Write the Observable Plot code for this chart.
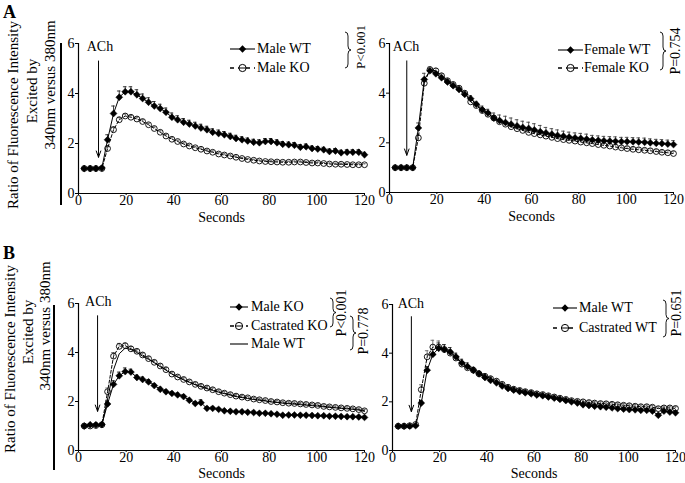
<!DOCTYPE html>
<html><head><meta charset="utf-8">
<script src="https://cdn.jsdelivr.net/npm/d3@7"></script>
<script src="https://cdn.jsdelivr.net/npm/@observablehq/plot@0.6"></script>
<style>
body{margin:0;background:#fff;}
#fig{position:relative;width:685px;height:483px;font-family:"Liberation Serif","Times New Roman",serif;color:#000;overflow:hidden;background:#fff;}
#fig svg text{font-family:"Liberation Serif","Times New Roman",serif;}
.abs{position:absolute;white-space:nowrap;line-height:1;}
.rot{transform:translate(-50%,-50%) rotate(-90deg);}
.leg{transform:translateY(-50%);font-size:14px;}
</style></head><body><div id="fig"></div><script>
// ---- data ----
const T = [2.4,4.9,7.3,9.8,12.2,14.7,17.1,19.6,22.0,24.5,26.9,29.4,31.8,34.3,36.7,39.2,41.6,44.1,46.5,49.0,51.4,53.9,56.3,58.8,61.2,63.7,66.1,68.6,71.0,73.5,75.9,78.4,80.8,83.3,85.7,88.2,90.6,93.1,95.5,98.0,100.4,102.9,105.3,107.8,110.2,112.7,115.1,117.6,120.0];
const xTicks = [0,20,40,60,80,100,120];
const yTicks = [0,2,4,6];

// Panel A left
const maleWT_A = [1.0,1.0,1.0,1.02,2.15,3.2,3.85,4.07,4.07,3.95,3.8,3.65,3.5,3.4,3.25,3.05,2.95,2.85,2.78,2.7,2.62,2.55,2.45,2.4,2.35,2.28,2.2,2.15,2.1,2.05,2.03,2.08,2.08,2.03,1.97,1.95,1.93,1.85,1.87,1.8,1.78,1.75,1.68,1.7,1.63,1.65,1.65,1.65,1.55];
const maleWT_A_err = [0.03,0.03,0.03,0.03,0.2,0.3,0.25,0.2,0.2,0.2,0.18,0.18,0.18,0.17,0.17,0.17,0.16,0.15,0.15,0.15,0.15,0.14,0.14,0.14,0.13,0.13,0.13,0.12,0.12,0.12,0.12,0.12,0.12,0.12,0.11,0.11,0.11,0.11,0.11,0.1,0.1,0.1,0.1,0.1,0.1,0.1,0.1,0.1,0.1];
const maleKO_A = [1.0,1.0,1.0,1.0,1.8,2.55,2.95,3.1,3.05,2.98,2.88,2.75,2.6,2.45,2.3,2.17,2.08,1.98,1.9,1.83,1.77,1.7,1.65,1.58,1.54,1.5,1.45,1.4,1.36,1.33,1.3,1.28,1.27,1.26,1.25,1.25,1.26,1.26,1.24,1.22,1.22,1.2,1.18,1.17,1.17,1.16,1.15,1.15,1.15];
const maleKO_A_err = [0.02,0.02,0.02,0.02,0.1,0.12,0.1,0.08,0.07,0.07,0.07,0.06,0.06,0.06,0.06,0.06,0.05,0.05,0.05,0.05,0.05,0.05,0.05,0.05,0.05,0.05,0.05,0.04,0.04,0.04,0.04,0.04,0.04,0.04,0.04,0.04,0.04,0.04,0.04,0.04,0.04,0.04,0.04,0.04,0.04,0.04,0.04,0.04,0.04];

// Panel A right
const femaleWT = [1.0,1.0,1.0,1.0,2.6,4.55,4.9,4.78,4.62,4.45,4.3,4.15,3.95,3.78,3.55,3.33,3.2,3.0,2.9,2.82,2.75,2.68,2.62,2.58,2.52,2.45,2.4,2.35,2.3,2.27,2.23,2.2,2.18,2.15,2.12,2.1,2.08,2.07,2.06,2.05,2.05,2.04,2.03,2.02,2.0,1.98,1.97,1.95,1.93];
const femaleWT_err = [0.03,0.03,0.03,0.03,0.2,0.25,0.1,0.1,0.1,0.1,0.1,0.1,0.12,0.12,0.12,0.15,0.15,0.2,0.22,0.25,0.25,0.25,0.25,0.25,0.25,0.25,0.22,0.22,0.22,0.2,0.2,0.2,0.2,0.2,0.18,0.18,0.18,0.18,0.18,0.17,0.17,0.17,0.17,0.17,0.16,0.16,0.16,0.16,0.16];
const femaleKO = [1.0,1.0,1.0,1.0,2.2,4.4,4.95,4.9,4.7,4.5,4.35,4.2,4.0,3.65,3.5,3.3,3.15,3.0,2.85,2.75,2.65,2.57,2.5,2.42,2.37,2.32,2.27,2.22,2.17,2.13,2.1,2.07,2.03,2.0,1.97,1.93,1.9,1.87,1.83,1.8,1.77,1.74,1.72,1.7,1.68,1.65,1.62,1.6,1.57];
const femaleKO_err = [0.03,0.03,0.03,0.03,0.15,0.2,0.12,0.1,0.1,0.1,0.1,0.1,0.1,0.1,0.1,0.1,0.1,0.1,0.1,0.1,0.1,0.1,0.1,0.1,0.1,0.1,0.1,0.1,0.1,0.1,0.1,0.1,0.1,0.08,0.08,0.08,0.08,0.08,0.08,0.08,0.08,0.08,0.08,0.08,0.08,0.08,0.08,0.08,0.08];

// Panel B left
const maleKO_B = [1.0,1.05,1.05,1.06,1.9,2.7,3.05,3.22,3.2,2.98,2.9,2.8,2.65,2.5,2.4,2.33,2.27,2.2,2.05,1.92,1.95,1.72,1.72,1.68,1.62,1.6,1.58,1.58,1.56,1.55,1.52,1.52,1.5,1.48,1.44,1.45,1.45,1.44,1.44,1.43,1.42,1.42,1.4,1.4,1.39,1.38,1.38,1.37,1.35];
const maleKO_B_err = [0.03,0.03,0.03,0.03,0.12,0.15,0.15,0.15,0.12,0.1,0.1,0.1,0.08,0.08,0.08,0.08,0.08,0.08,0.08,0.08,0.12,0.06,0.06,0.06,0.06,0.06,0.06,0.06,0.06,0.06,0.05,0.05,0.05,0.05,0.05,0.05,0.05,0.05,0.05,0.05,0.05,0.05,0.05,0.05,0.05,0.05,0.05,0.05,0.05];
const castKO_B = [1.0,1.0,1.02,1.05,2.4,3.85,4.25,4.28,4.15,4.05,3.9,3.75,3.6,3.45,3.3,3.12,3.0,2.9,2.8,2.7,2.62,2.55,2.48,2.4,2.34,2.28,2.22,2.18,2.15,2.1,2.07,2.04,2.0,1.98,1.95,1.93,1.92,1.9,1.88,1.86,1.84,1.8,1.78,1.76,1.74,1.72,1.7,1.67,1.62];
const castKO_B_err = [0.03,0.03,0.03,0.03,0.15,0.15,0.12,0.1,0.1,0.08,0.08,0.08,0.08,0.08,0.08,0.08,0.07,0.07,0.07,0.07,0.07,0.07,0.07,0.07,0.07,0.07,0.07,0.06,0.06,0.06,0.06,0.06,0.06,0.06,0.06,0.06,0.06,0.06,0.06,0.06,0.06,0.06,0.06,0.06,0.06,0.06,0.06,0.06,0.06];
const maleWT_B = [1.0,1.0,1.0,1.02,2.1,3.3,3.95,4.18,4.12,4.0,3.85,3.72,3.58,3.42,3.28,3.12,3.0,2.88,2.78,2.68,2.6,2.52,2.45,2.38,2.32,2.26,2.2,2.16,2.12,2.08,2.05,2.02,1.98,1.96,1.93,1.91,1.89,1.87,1.85,1.83,1.81,1.78,1.76,1.74,1.72,1.7,1.68,1.65,1.6];

// Panel B right
const maleWT_C = [1.0,1.0,1.0,1.02,1.95,3.3,3.95,4.2,4.15,4.05,3.85,3.6,3.45,3.3,3.15,3.0,2.88,2.78,2.65,2.55,2.48,2.42,2.37,2.33,2.28,2.25,2.2,2.15,2.1,2.05,2.0,1.95,1.88,1.85,1.82,1.8,1.78,1.75,1.72,1.7,1.68,1.67,1.65,1.65,1.62,1.45,1.62,1.58,1.55];
const maleWT_C_err = [0.03,0.03,0.03,0.03,0.1,0.15,0.2,0.22,0.2,0.18,0.15,0.15,0.15,0.12,0.12,0.12,0.12,0.1,0.1,0.1,0.1,0.1,0.1,0.1,0.08,0.08,0.08,0.08,0.08,0.08,0.08,0.08,0.08,0.08,0.07,0.07,0.07,0.07,0.07,0.07,0.07,0.07,0.07,0.07,0.07,0.07,0.07,0.07,0.07];
const castWT_C = [1.0,1.0,1.02,1.07,2.5,3.85,4.25,4.25,4.15,4.0,3.8,3.55,3.4,3.3,3.15,3.05,2.95,2.85,2.72,2.6,2.52,2.47,2.42,2.38,2.33,2.3,2.25,2.2,2.15,2.1,2.05,2.02,2.0,1.97,1.95,1.93,1.92,1.9,1.88,1.86,1.84,1.82,1.8,1.8,1.78,1.72,1.75,1.75,1.73];
const castWT_C_err = [0.03,0.03,0.03,0.03,0.2,0.25,0.28,0.25,0.2,0.15,0.12,0.12,0.1,0.1,0.1,0.1,0.1,0.08,0.08,0.08,0.08,0.08,0.08,0.08,0.07,0.07,0.07,0.07,0.07,0.07,0.07,0.07,0.07,0.07,0.07,0.07,0.07,0.07,0.07,0.07,0.07,0.07,0.07,0.07,0.07,0.07,0.07,0.07,0.07];

// text
const panelLetters = ["A","B"];
const yLabelLines = ["Ratio of Fluorescence Intensity","Excited by","340nm versus 380nm"];
const xLabel = "Seconds";
const achLabel = "ACh";
const legendA1 = ["Male WT","Male KO"];
const legendA2 = ["Female WT","Female KO"];
const legendB1 = ["Male KO","Castrated KO","Male WT"];
const legendB2 = ["Male WT","Castrated WT"];
const pLabels = ["P<0.001","P=0.754","P<0.001","P=0.778","P=0.651"];

// ---- drawing ----
const fig = document.getElementById("fig");
const FONT = '"Liberation Serif","Times New Roman",serif';

function div(text, x, y, cls, style) {
  const d = document.createElement("div");
  d.className = "abs " + (cls || "");
  d.textContent = text;
  d.style.left = x + "px"; d.style.top = y + "px";
  Object.assign(d.style, style || {});
  fig.appendChild(d);
  return d;
}

function panel(cfg) {
  const marks = [];
  const sets = cfg.series.map(s => ({s, data: T.map((t, i) => ({t, v: s.v[i], e: s.e ? s.e[i] : 0}))}));
  for (const {s, data} of sets) {
    if (s.e) {
      marks.push(Plot.ruleX(data, {x: "t", y1: "v", y2: d => d.v + d.e, stroke: s.errColor, strokeWidth: 0.9}));
      marks.push(Plot.ruleY(data, {y: d => d.v + d.e, x1: d => d.t - 0.75, x2: d => d.t + 0.75, stroke: s.errColor, strokeWidth: 0.9}));
    }
  }
  for (const {s, data} of sets) {
    marks.push(Plot.line(data, {x: "t", y: "v", stroke: "#000", strokeWidth: s.lw || 1, strokeDasharray: s.dash}));
    if (s.marker === "diamond") marks.push(Plot.dot(data, {x: "t", y: "v", symbol: "diamond2", r: 3.1, fill: "#000", stroke: "#000", strokeWidth: 0.5}));
    if (s.marker === "circle") marks.push(Plot.dot(data, {x: "t", y: "v", symbol: "circle", r: 2.9, fill: "none", stroke: "#000", strokeWidth: 0.9}));
  }
  marks.push(Plot.ruleY([0], {stroke: "#000", strokeWidth: 1.2}));
  marks.push(Plot.ruleX([0], {stroke: "#000", strokeWidth: 1.2}));
  marks.push(Plot.arrow([cfg.ach], {x1: "x", y1: "top", x2: "x", y2: "tip", stroke: "#000", strokeWidth: 1, headLength: 10, headAngle: 40}));
  marks.push(Plot.text([cfg.ach], {x: "lx", y: "ly", text: () => achLabel, fontSize: 14, fill: "#000"}));
  marks.push(Plot.text([xLabel], {frameAnchor: "bottom", dy: cfg.secDy, fontSize: 14, fill: "#000"}));
  const [mt, mr, mb, ml] = cfg.m;
  const svg = Plot.plot({
    width: cfg.width, height: cfg.height,
    marginTop: mt, marginRight: mr, marginBottom: mb, marginLeft: ml,
    style: `font-family: ${FONT}; font-size: 14px; color: #000; background: transparent; overflow: visible;`,
    x: {domain: [0, 120], ticks: xTicks, tickFormat: d => String(d), label: null, tickSize: 2, tickPadding: 0},
    y: {domain: [0, 6], ticks: yTicks, tickFormat: d => String(d), label: null, tickSize: 3, tickPadding: 1},
    marks
  });
  svg.style.position = "absolute";
  svg.style.left = cfg.left + "px";
  svg.style.top = cfg.top + "px";
  fig.appendChild(svg);
}

panel({left: 0, top: 0, width: 370, height: 228, m: [43, 6, 35, 78], secDy: 28,
  ach: {x: 8.4, top: 5.3, tip: 1.45, lx: 9.0, ly: 5.88},
  series: [
    {v: maleKO_A, e: maleKO_A_err, marker: "circle", dash: "3,2", errColor: "#666"},
    {v: maleWT_A, e: maleWT_A_err, marker: "diamond", errColor: "#222"}
  ]});
panel({left: 370, top: 0, width: 315, height: 228, m: [43, 12, 36, 19], secDy: 28,
  ach: {x: 7.3, top: 5.3, tip: 1.5, lx: 7.0, ly: 5.88},
  series: [
    {v: femaleWT, e: femaleWT_err, marker: "diamond", errColor: "#444"},
    {v: femaleKO, e: femaleKO_err, marker: "circle", dash: "3,2", errColor: "#999"}
  ]});
panel({left: 0, top: 250, width: 370, height: 233, m: [53, 6, 33, 78], secDy: 27,
  ach: {x: 8.0, top: 5.5, tip: 1.6, lx: 8.3, ly: 6.08},
  series: [
    {v: maleWT_B, lw: 1},
    {v: castKO_B, e: castKO_B_err, marker: "circle", dash: "3,2", errColor: "#666"},
    {v: maleKO_B, e: maleKO_B_err, marker: "diamond", errColor: "#222"}
  ]});
panel({left: 370, top: 250, width: 315, height: 233, m: [54, 10, 33, 22], secDy: 27,
  ach: {x: 8.0, top: 5.5, tip: 1.6, lx: 7.8, ly: 6.06},
  series: [
    {v: castWT_C, e: castWT_C_err, marker: "circle", dash: "3,2", errColor: "#666"},
    {v: maleWT_C, e: maleWT_C_err, marker: "diamond", errColor: "#222"}
  ]});

// overlay svg for legend symbols, braces, bars
const ov = d3.select(fig).append("svg")
  .attr("width", 685).attr("height", 483)
  .style("position", "absolute").style("left", "0px").style("top", "0px")
  .style("pointer-events", "none");

function legendItem(x1, x2, y, kind, label, tx) {
  const g = ov.append("g");
  g.append("line").attr("x1", x1).attr("x2", x2).attr("y1", y).attr("y2", y)
    .attr("stroke", "#000").attr("stroke-width", kind === "circle" ? 1.6 : 1.1)
    .attr("stroke-dasharray", kind === "circle" ? "4,4" : null);
  const cx = (x1 + x2) / 2;
  if (kind === "diamond") {
    g.append("path").attr("d", d3.symbol(d3.symbolDiamond2, 34)()).attr("transform", `translate(${cx},${y})`).attr("fill", "#000");
  } else if (kind === "circle") {
    g.append("circle").attr("cx", cx).attr("cy", y).attr("r", 3.6).attr("fill", "#fff").attr("stroke", "#000").attr("stroke-width", 1);
    g.append("line").attr("x1", cx - 3.6).attr("x2", cx + 3.6).attr("y1", y).attr("y2", y).attr("stroke", "#000").attr("stroke-width", 1);
  }
  div(label, tx, y, "leg");
}
function brace(x, y1, y2, w) {
  const xm = x + w / 2, ym = (y1 + y2) / 2, a = Math.min(4, (y2 - y1) / 6);
  const p = `M${x},${y1} Q${xm},${y1} ${xm},${y1 + a} L${xm},${ym - a} Q${xm},${ym} ${x + w},${ym} Q${xm},${ym} ${xm},${ym + a} L${xm},${y2 - a} Q${xm},${y2} ${x},${y2}`;
  ov.append("path").attr("d", p).attr("fill", "none").attr("stroke", "#000").attr("stroke-width", 0.9);
}

// legends
legendItem(230, 255, 49, "diamond", legendA1[0], 257);
legendItem(230, 255, 68, "circle", legendA1[1], 257);
legendItem(558, 583, 50, "diamond", legendA2[0], 584);
legendItem(558, 583, 68, "circle", legendA2[1], 584);
legendItem(230, 248, 307, "diamond", legendB1[0], 251);
legendItem(230, 248, 326, "circle", legendB1[1], 251);
legendItem(230, 248, 344, "line", legendB1[2], 251);
legendItem(553, 577, 308, "diamond", legendB2[0], 579);
legendItem(553, 577, 328, "circle", legendB2[1], 579);

// braces and p-values
brace(345, 32, 68, 6);
div(pLabels[0], 360, 47, "rot", {fontSize: "13px"});
brace(660, 32, 70, 6);
div(pLabels[1], 676, 51, "rot", {fontSize: "14px"});
brace(330, 298, 327, 6);
div(pLabels[2], 342, 313, "rot", {fontSize: "14px"});
brace(350, 316, 350, 6);
div(pLabels[3], 364, 331, "rot", {fontSize: "14px"});
brace(663, 300, 337, 6);
div(pLabels[4], 677, 313, "rot", {fontSize: "14px"});

// panel letters
div(panelLetters[0], 3, 3, "", {fontSize: "18px", fontWeight: "bold"});
div(panelLetters[1], 3, 244, "", {fontSize: "18px", fontWeight: "bold"});

// y-axis labels + bars
const yA = [[13, 115], [32, 91], [50, 85]];
const yB = [[10, 359], [28, 332], [45, 326]];
yLabelLines.forEach((t, i) => {
  div(t, yA[i][0], yA[i][1], "rot", {fontSize: "15px"});
  div(t, yB[i][0], yB[i][1], "rot", {fontSize: "15px"});
});
ov.append("line").attr("x1", 61).attr("x2", 61).attr("y1", 43).attr("y2", 205).attr("stroke", "#000").attr("stroke-width", 2);
ov.append("line").attr("x1", 54).attr("x2", 54).attr("y1", 305).attr("y2", 470).attr("stroke", "#000").attr("stroke-width", 2);
</script></body></html>
